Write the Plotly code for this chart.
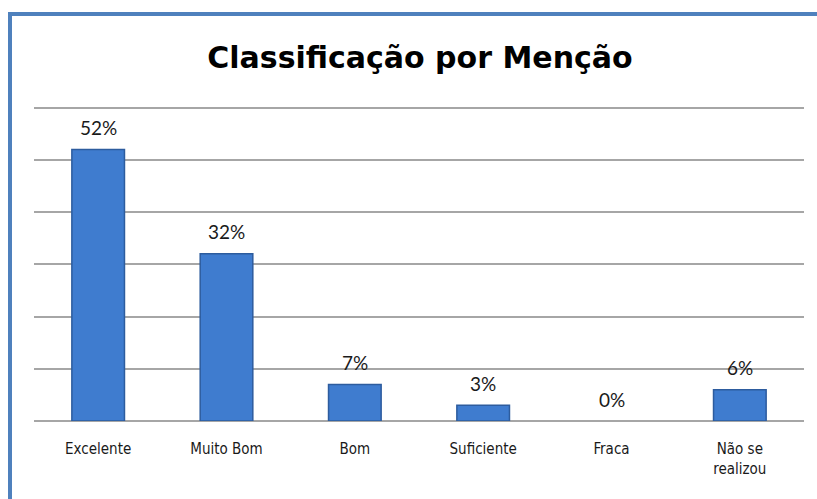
import plotly.graph_objects as go

categories = ["Excelente", "Muito Bom", "Bom", "Suficiente", "Fraca", "Não se<br>realizou"]
values = [52, 32, 7, 3, 0, 6]
labels = ["52%", "32%", "7%", "3%", "0%", "6%"]
title_text = "Classificação por Menção"

fig = go.Figure()
fig.add_trace(go.Bar(
    x=categories, y=values,
    width=0.41,
    marker=dict(color="#3F7CCF",
                line=dict(color="#2D5C9E", width=[1.5 if v > 0 else 0 for v in values])),
    hoverinfo="skip",
))

for c, v, t in zip(categories, values, labels):
    fig.add_annotation(x=c, y=v, text=t, showarrow=False, yanchor="middle", yshift=22,
                       font=dict(family="Lato, sans-serif", size=19, color="#1a1a1a"))

top, bottom = 105, 78
plot_h = 499 - top - bottom
fig.update_layout(
    width=817, height=499,
    margin=dict(l=34, r=13, t=top, b=bottom),
    paper_bgcolor="white", plot_bgcolor="white",
    showlegend=False,
    title=dict(text="<b>" + title_text + "</b>", x=0.514, xanchor="center", y=0.884, yanchor="middle",
               font=dict(family="DejaVu Sans, sans-serif", size=30, color="black")),
    xaxis=dict(showgrid=False, showline=False, ticks="", zeroline=False, ticklabelstandoff=17,
               tickfont=dict(family="Liberation Sans Narrow, DejaVu Sans Condensed, sans-serif",
                             size=15, color="#1a1a1a")),
    yaxis=dict(range=[0, 60.5], dtick=10, showticklabels=False, showgrid=True,
               gridcolor="#A6A6A6", gridwidth=1.5, zeroline=True, zerolinecolor="#A6A6A6",
               zerolinewidth=1.5, showline=False),
    shapes=[
        dict(type="line", xref="paper", yref="paper", x0=(8 - 34) / 770, x1=(817 - 34) / 770,
             y0=1 + (top - 14) / plot_h, y1=1 + (top - 14) / plot_h, line=dict(color="#4F81BD", width=4)),
        dict(type="line", xref="paper", yref="paper", x0=(10 - 34) / 770, x1=(10 - 34) / 770,
             y0=1 + (top - 12) / plot_h, y1=-bottom / plot_h - 0.01, line=dict(color="#4F81BD", width=4)),
    ],
)

fig.write_html("out.html", config={"displayModeBar": False},
               post_script="document.body.style.margin='0';document.body.style.overflow='hidden';")
